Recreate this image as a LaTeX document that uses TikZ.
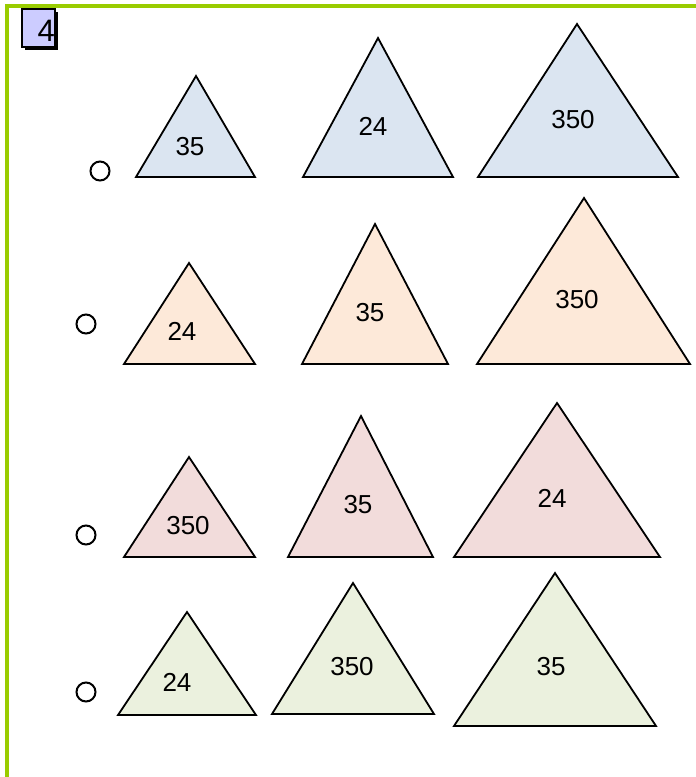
\documentclass[tikz,border=0pt]{standalone}
\usepackage{fontspec}
\setmainfont{Liberation Sans}
\definecolor{cblue}{HTML}{DBE5F1}
\definecolor{cpeach}{HTML}{FDE9D9}
\definecolor{cpink}{HTML}{F2DCDB}
\definecolor{cgreen}{HTML}{EBF1DE}
\definecolor{framegreen}{HTML}{99CC00}
\definecolor{lav}{HTML}{CCCCFF}
\tikzset{
  tri/.style={draw=black, line width=1.8pt, line join=miter},
  lbl/.style={font=\fontsize{26}{29}\selectfont, inner sep=0pt},
  opt/.style={draw=black, circle, line width=2pt, minimum size=19pt, inner sep=0pt},
  framel/.style={draw=framegreen, line width=4pt}
}
\begin{document}
\begin{tikzpicture}[x=1pt,y=-1pt]
\useasboundingbox (0,0) rectangle (696,777);
% frame
\coordinate (fl) at (7,777);
\coordinate (fc) at (7,5.5);
\coordinate (fr) at (696,5.5);
\draw[framel] (fl) -- (fc) -- (fr);
% question number box
\fill[black] (25,12) rectangle (58,50);
\draw[fill=lav, line width=1.8pt] (22,9) rectangle (55,47);
\node[lbl, anchor=east, font=\fontsize{31}{33}\selectfont] (qnum) at (55,31) {4};
% row 1
\node[opt] (o1) at (100,171) {};
\draw[tri, fill=cblue] (196,76) -- (255,177) -- (136,177) -- cycle;
\node[lbl] (a1) at (190,147) {35};
\draw[tri, fill=cblue] (378,38) -- (453,177) -- (303,177) -- cycle;
\node[lbl] (a2) at (373,126) {24};
\draw[tri, fill=cblue] (577,24) -- (678,177) -- (478,177) -- cycle;
\node[lbl] (a3) at (573,120) {350};
% row 2
\node[opt] (o2) at (86,324) {};
\draw[tri, fill=cpeach] (189,263) -- (255,364) -- (124,364) -- cycle;
\node[lbl] (b1) at (182,331) {24};
\draw[tri, fill=cpeach] (375,224) -- (448,364) -- (302,364) -- cycle;
\node[lbl] (b2) at (370,313) {35};
\draw[tri, fill=cpeach] (584,198) -- (690,364) -- (477,364) -- cycle;
\node[lbl] (b3) at (577,300) {350};
% row 3
\node[opt] (o3) at (86,535) {};
\draw[tri, fill=cpink] (189,457) -- (255,557) -- (124,557) -- cycle;
\node[lbl] (c1) at (188,526) {350};
\draw[tri, fill=cpink] (361,416) -- (433,557) -- (288,557) -- cycle;
\node[lbl] (c2) at (358,505) {35};
\draw[tri, fill=cpink] (557,403) -- (660,557) -- (454,557) -- cycle;
\node[lbl] (c3) at (552,498) {24};
% row 4
\node[opt] (o4) at (86,692) {};
\draw[tri, fill=cgreen] (187,612) -- (256,715) -- (118,715) -- cycle;
\node[lbl] (d1) at (177,682) {24};
\draw[tri, fill=cgreen] (353,583) -- (434,714) -- (272,714) -- cycle;
\node[lbl] (d2) at (352,667) {350};
\draw[tri, fill=cgreen] (555,573) -- (656,726) -- (454,726) -- cycle;
\node[lbl] (d3) at (551,667) {35};
\end{tikzpicture}
\end{document}
